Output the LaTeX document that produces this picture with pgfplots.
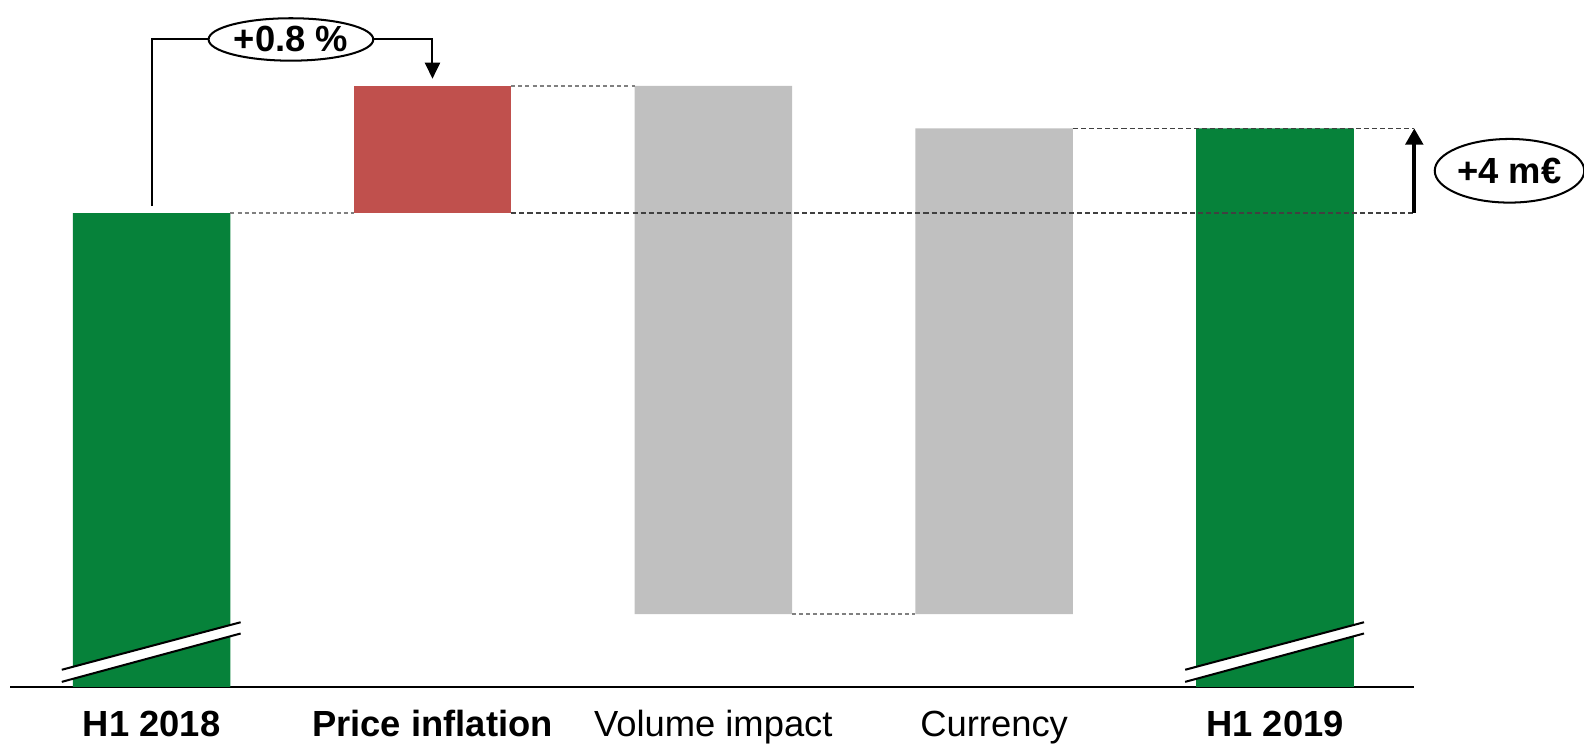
\documentclass[border=0pt]{standalone}
\usepackage{fontspec}
\setmainfont{Liberation Sans}
\usepackage{pgfplots}
\pgfplotsset{compat=1.18}
\usetikzlibrary{arrows.meta}
\definecolor{wfgreen}{HTML}{06823A}
\definecolor{wfred}{HTML}{C0504D}
\definecolor{wfgray}{HTML}{C0C0C0}
\definecolor{dashgray}{HTML}{808080}
\definecolor{dashdark}{HTML}{404040}
\begin{document}
\begin{tikzpicture}
\begin{axis}[
  at={(0,0)}, anchor=south west,
  scale only axis, width=695pt, height=340pt,
  xmin=-0.504, xmax=4.496, ymin=0, ymax=32.38,
  axis x line=bottom, axis y line=none,
  axis line style={-, line width=1pt, black},
  xtick={0,1,2,3,4},
  xticklabels={\textbf{H1 2018},\textbf{Price inflation},Volume impact,Currency,\textbf{H1 2019}},
  major tick length=0pt,
  xticklabel style={anchor=base, yshift=-24.5pt, font=\fontsize{18}{20}\selectfont},
  ybar stacked, reverse stacked plots=false, bar width=0.561,
  clip=false,
]
\addplot[draw=none, fill=none] coordinates {(0,0) (1,22.33) (2,3.43) (3,3.43) (4,0)};
\addplot[fill=wfgreen, draw=none] coordinates {(0,22.33) (1,0) (2,0) (3,0) (4,26.33)};
\addplot[fill=wfred, draw=none] coordinates {(0,0) (1,6) (2,0) (3,0) (4,0)};
\addplot[fill=wfgray, draw=none] coordinates {(0,0) (1,0) (2,24.9) (3,22.9) (4,0)};

% connector dashed lines
\draw[dashgray, line width=0.75pt, dash pattern=on 2pt off 1.5pt] (axis cs:0.2806,22.33) -- (axis cs:0.7194,22.33);
\draw[dashgray, line width=0.75pt, dash pattern=on 2pt off 1.5pt] (axis cs:1.2806,28.33) -- (axis cs:1.7194,28.33);
\draw[dashgray, line width=0.75pt, dash pattern=on 2pt off 1.5pt] (axis cs:2.2806,3.43) -- (axis cs:2.7194,3.43);
\draw[dashdark, line width=0.75pt, dash pattern=on 2.5pt off 1.5pt] (axis cs:1.2806,22.33) -- (axis cs:4.496,22.33);
\draw[dashdark, line width=0.75pt, dash pattern=on 2.5pt off 1.5pt] (axis cs:3.2806,26.33) -- (axis cs:4.496,26.33);

% axis break marks
\fill[white] (axis cs:-0.320,0.81) -- (axis cs:0.317,3.05) -- (axis cs:0.317,2.52) -- (axis cs:-0.320,0.24) -- cycle;
\draw[black, line width=1pt] (axis cs:-0.320,0.81) -- (axis cs:0.317,3.05);
\draw[black, line width=1pt] (axis cs:-0.320,0.24) -- (axis cs:0.317,2.52);
\fill[white] (axis cs:3.680,0.81) -- (axis cs:4.317,3.05) -- (axis cs:4.317,2.52) -- (axis cs:3.680,0.24) -- cycle;
\draw[black, line width=1pt] (axis cs:3.680,0.81) -- (axis cs:4.317,3.05);
\draw[black, line width=1pt] (axis cs:3.680,0.24) -- (axis cs:4.317,2.52);

% +0.8 % annotation
\draw[black, line width=1pt, -{Triangle[length=8pt,width=7.5pt]}]
  (axis cs:0,22.67) -- (axis cs:0,30.52) -- (axis cs:1,30.52) -- (axis cs:1,28.67);
\draw[black, line width=1pt, fill=white] (axis cs:0.496,30.52) ellipse (40.75pt and 10.5pt);
\node[inner sep=0pt, font=\bfseries\fontsize{18}{20}\selectfont] at (axis cs:0.496,30.52) {+0.8 \%};

% +4 m€ annotation
\draw[black, line width=2pt, -{Triangle[length=8pt,width=8.5pt]}] (axis cs:4.496,22.33) -- (axis cs:4.496,26.33);
\draw[black, line width=1pt, fill=white] (axis cs:4.835,24.33) ellipse (37pt and 15.75pt);
\node[inner sep=0pt, font=\bfseries\fontsize{18}{20}\selectfont] at (axis cs:4.835,24.33) {+4 m€};
\end{axis}
\pgfresetboundingbox
\path (-5pt,-28pt) rectangle (779pt,340pt);
\end{tikzpicture}
\end{document}
